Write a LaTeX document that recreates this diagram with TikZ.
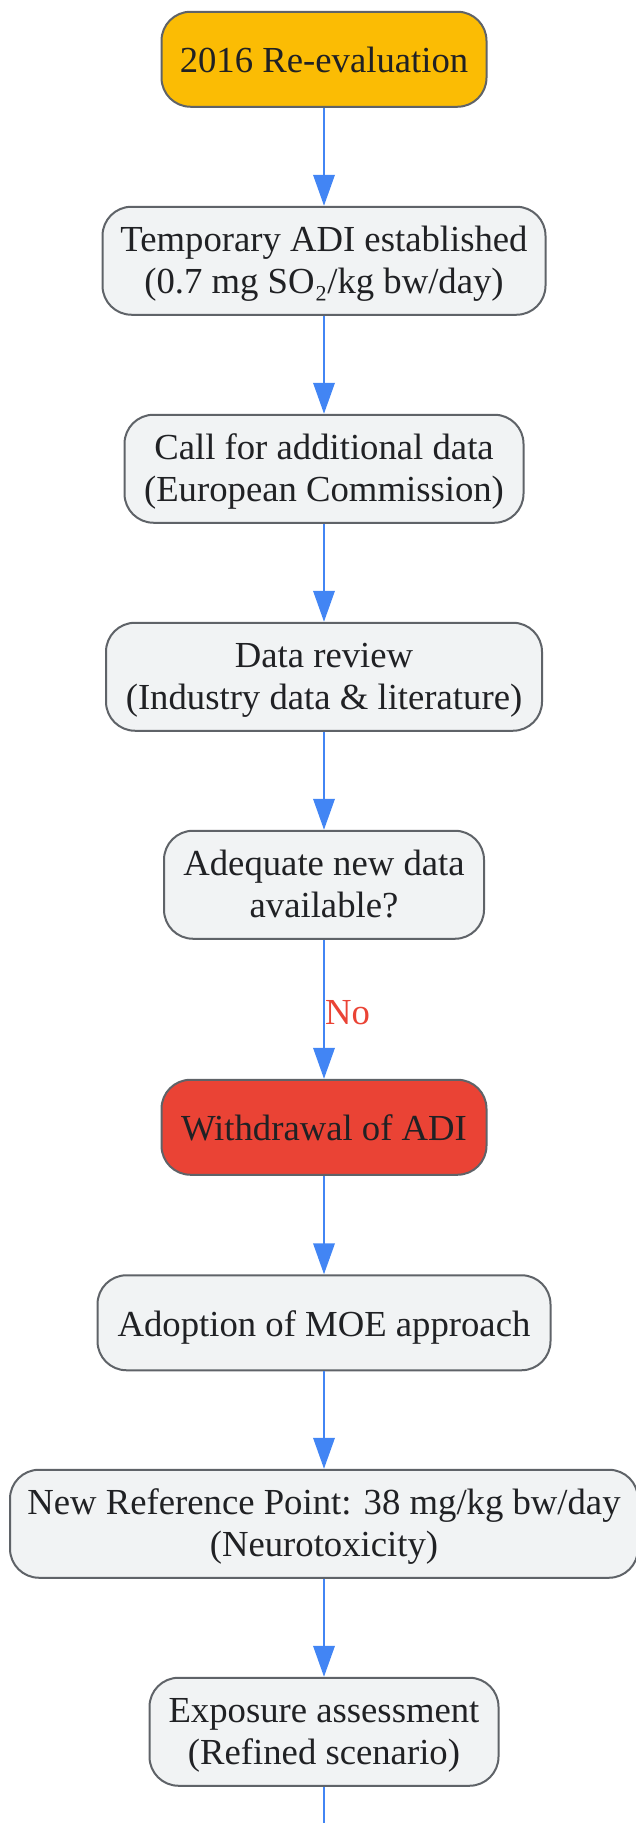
\documentclass[tikz,border=0pt]{standalone}
\usepackage{fontspec}
\setmainfont{Liberation Serif}
\usetikzlibrary{arrows.meta}
\definecolor{gyellow}{HTML}{FBBC04}
\definecolor{gred}{HTML}{EA4335}
\definecolor{gfill}{HTML}{F1F3F4}
\definecolor{gborder}{HTML}{5F6368}
\definecolor{gtext}{HTML}{202124}
\definecolor{gblue}{HTML}{4285F4}
\begin{document}
\begin{tikzpicture}[x=1pt,y=-1pt,
  box/.style={draw=gborder, line width=2pt, fill=gfill, rounded corners=29pt,
    align=center, text=gtext, font=\fontsize{36.7}{42}\selectfont, inner sep=0pt},
  one/.style={box, minimum height=95pt, text height=26.8pt, text depth=0pt},
  two/.style={box, minimum height=108pt, text height=73.4pt, text depth=8pt},
  flow/.style={draw=gblue, line width=2pt, -{Triangle[length=31pt,width=21.5pt]}},
  plainflow/.style={draw=gblue, line width=2pt},
  lbl/.style={text=gred, font=\fontsize{36.7}{42}\selectfont, inner sep=0pt}
]
\useasboundingbox (0,0) rectangle (635,1823);
\node[one, fill=gyellow, minimum width=325pt] (n1) at (324,59.25) {2016 Re-evaluation};
\node[two, minimum width=443pt] (n2) at (324,260.75) {Temporary ADI established\\(0.7 mg SO₂/kg bw/day)};
\node[two, minimum width=399pt] (n3) at (324,468.75) {Call for additional data\\(European Commission)};
\node[two, minimum width=436pt] (n4) at (324,676.75) {Data review\\(Industry data \& literature)};
\node[two, minimum width=320pt] (n5) at (324,884.75) {Adequate new data\\available?};
\node[one, fill=gred, minimum width=325pt] (n6) at (324,1127.25) {Withdrawal of ADI};
\node[one, minimum width=453pt] (n7) at (324,1322.75) {Adoption of MOE approach};
\node[two, minimum width=628pt] (n8) at (324,1523.75) {New Reference Point: 38 mg/kg bw/day\\(Neurotoxicity)};
\node[two, minimum width=349pt] (n9) at (324,1731.75) {Exposure assessment\\(Refined scenario)};
\coordinate (bottom) at (324,1823);
\draw[flow] (n1) -- (n2);
\draw[flow] (n2) -- (n3);
\draw[flow] (n3) -- (n4);
\draw[flow] (n4) -- (n5);
\draw[flow] (n5) -- node[lbl, pos=0.61, anchor=base west] (no) {No} (n6);
\draw[flow] (n6) -- (n7);
\draw[flow] (n7) -- (n8);
\draw[flow] (n8) -- (n9);
\draw[plainflow] (n9) -- (bottom);
\end{tikzpicture}
\end{document}
